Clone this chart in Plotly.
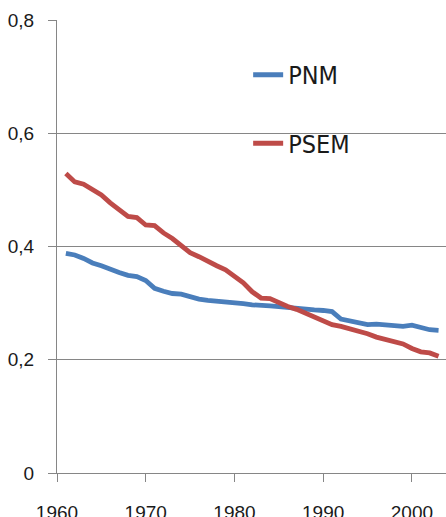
import plotly.graph_objects as go

# Years covered by both series
years = list(range(1961, 2004))

# PNM series
pnm = [0.388, 0.385, 0.379, 0.371, 0.366, 0.359, 0.354, 0.349, 0.347, 0.340,
       0.326, 0.321, 0.317, 0.316, 0.311, 0.307, 0.305, 0.304, 0.302, 0.300,
       0.299, 0.297, 0.295, 0.295, 0.294, 0.292, 0.292, 0.289, 0.288, 0.287,
       0.285, 0.272, 0.269, 0.267, 0.262, 0.263, 0.262, 0.260, 0.259, 0.261,
       0.257, 0.253, 0.252]

# PSEM series
psem = [0.529, 0.514, 0.510, 0.500, 0.491, 0.477, 0.464, 0.453, 0.451, 0.438,
        0.437, 0.424, 0.414, 0.401, 0.389, 0.382, 0.373, 0.366, 0.359, 0.347,
        0.336, 0.320, 0.309, 0.308, 0.300, 0.294, 0.289, 0.282, 0.276, 0.267,
        0.262, 0.259, 0.255, 0.250, 0.246, 0.240, 0.236, 0.232, 0.228, 0.220,
        0.214, 0.212, 0.206]

x_ticks = [1960, 1970, 1980, 1990, 2000]
y_ticks = [0, 0.2, 0.4, 0.6, 0.8]

GRID = "#868686"
TEXT = "#1a1a1a"

fig = go.Figure()
fig.add_trace(go.Scatter(x=years, y=pnm, name="PNM", mode="lines",
                         legendgroup="pnm",
                         line=dict(color="#4a7ebb", width=4.8)))
fig.add_trace(go.Scatter(x=years, y=psem, name="PSEM", mode="lines",
                         legendgroup="psem",
                         line=dict(color="#be4b48", width=4.8)))

W, H = 446, 517
left, top, bottom = 56.7, 20, 43.7
plot_w = W - left
plot_h = H - top - bottom
px_per_year = 8.88
x_end = 1960 + plot_w / px_per_year

fig.update_layout(
    width=W, height=H,
    margin=dict(l=left, r=0, t=top, b=bottom, autoexpand=False),
    paper_bgcolor="white", plot_bgcolor="white",
    separators=",.",
    font=dict(family="Liberation Sans, Arial, sans-serif", color=TEXT, size=19),
    showlegend=True,
    legend=dict(
        x=(248 - left) / plot_w, xanchor="left",
        y=1 - (52 - top) / plot_h,
        yanchor="top",
        traceorder="grouped", tracegroupgap=33,
        font=dict(family="Liberation Sans Narrow, DejaVu Sans Condensed, sans-serif",
                  size=25, color=TEXT),
        bgcolor="rgba(0,0,0,0)", borderwidth=0,
    ),
    xaxis=dict(
        range=[1960, x_end], tickvals=x_ticks,
        showgrid=False, zeroline=False,
        showline=True, linecolor=GRID, linewidth=1,
        ticks="outside", ticklen=8, tickcolor=GRID, tickwidth=1,
        ticklabelstandoff=14,
    ),
    yaxis=dict(
        range=[0, 0.8], tickvals=y_ticks,
        showgrid=True, gridcolor=GRID, gridwidth=1,
        zeroline=False,
        showline=True, linecolor=GRID, linewidth=1,
        ticks="outside", ticklen=8, tickcolor=GRID, tickwidth=1,
        ticklabelstandoff=10,
    ),
)

fig.write_html("out.html")
